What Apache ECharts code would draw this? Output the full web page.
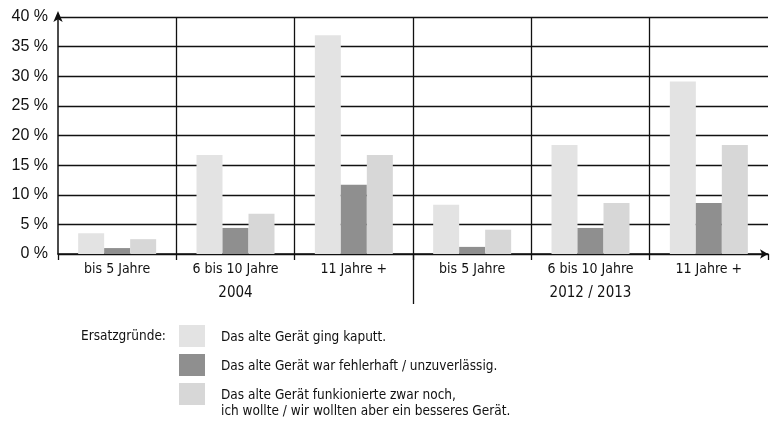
<!DOCTYPE html>
<html>
<head>
<meta charset="utf-8">
<script src="https://cdn.jsdelivr.net/npm/echarts@6/dist/echarts.min.js"></script>
<style>
  html, body { margin: 0; padding: 0; background: #fff; }
  #chart { width: 771px; height: 425px; }
</style>
</head>
<body>
<div id="chart"></div>
<script>
// Kategorien (Alter des Geräts) und Erhebungsjahre
var categories = ['bis 5 Jahre', '6 bis 10 Jahre', '11 Jahre +', 'bis 5 Jahre', '6 bis 10 Jahre', '11 Jahre +'];
var groups = ['2004', '2012 / 2013'];

// Ersatzgründe in %
var kaputt = [3.5, 16.7, 36.9, 8.3, 18.4, 29.1];
var fehlerhaft = [1.0, 4.4, 11.7, 1.2, 4.4, 8.6];
var besser = [2.5, 6.8, 16.7, 4.1, 8.6, 18.4];

var seriesNames = [
    'Das alte Gerät ging kaputt.',
    'Das alte Gerät war fehlerhaft / unzuverlässig.',
    'Das alte Gerät funkionierte zwar noch,\nich wollte / wir wollten aber ein besseres Gerät.'
];
var colors = ['#e3e3e3', '#8f8f8f', '#d7d7d7'];

var narrow = "'Liberation Sans Narrow', 'DejaVu Sans Condensed', 'Roboto Condensed', sans-serif";

var chart = echarts.init(document.getElementById('chart'));

function barSeries(name, data, color) {
    return {
        name: name,
        type: 'bar',
        data: data,
        barWidth: 26,
        barGap: '0%',
        itemStyle: { color: color },
        z: 1
    };
}

// Legende von Hand (Kästchen + Text), damit die zweizeilige Zeile oben bündig sitzt
var legendTop = [325, 354, 383];
var legendEls = [];
for (var i = 0; i < seriesNames.length; i++) {
    legendEls.push({
        type: 'rect',
        left: 179,
        top: legendTop[i],
        shape: { width: 26, height: 22 },
        style: { fill: colors[i] }
    });
    legendEls.push({
        type: 'text',
        left: 221,
        top: legendTop[i] + 4,
        style: {
            text: seriesNames[i],
            fontFamily: narrow,
            fontSize: 13.5,
            lineHeight: 16,
            fill: '#111'
        }
    });
}

var option = {
    animation: false,
    color: colors,
    title: {
        text: 'Ersatzgründe:',
        left: 76,
        top: 324,
        textStyle: { fontFamily: narrow, fontSize: 13.5, fontWeight: 'normal', color: '#111' }
    },
    grid: { left: 58, right: 3, top: 17, height: 237, containLabel: false },
    xAxis: [{
        type: 'category',
        data: categories,
        axisLine: { lineStyle: { color: '#111', width: 1.5 }, symbol: ['none', 'arrow'], symbolSize: [7, 8], symbolOffset: [0, 0] },
        axisTick: { show: true, length: 6, lineStyle: { color: '#111', width: 1.3 } },
        splitLine: { show: true, showMinLine: false, showMaxLine: false, lineStyle: { color: '#111', width: 1.3 } },
        axisLabel: { margin: 8, fontFamily: narrow, fontSize: 14, color: '#111' }
    }, {
        type: 'category',
        data: groups,
        position: 'bottom',
        axisLine: { show: false },
        axisTick: { show: false },
        splitLine: { show: false },
        axisLabel: { margin: 32, fontFamily: narrow, fontSize: 15, color: '#111' }
    }],
    yAxis: {
        type: 'value',
        min: 0,
        max: 40,
        interval: 5,
        axisLine: { show: true, lineStyle: { color: '#111', width: 1.5 }, symbol: ['none', 'arrow'], symbolSize: [7, 11], symbolOffset: [0, 6] },
        axisTick: { show: false },
        splitLine: { show: true, lineStyle: { color: '#111', width: 1.3 } },
        axisLabel: { margin: 10, formatter: '{value} %', fontFamily: "'Liberation Sans', Arial, sans-serif", fontSize: 16, color: '#111' }
    },
    series: [
        barSeries(seriesNames[0], kaputt, colors[0]),
        barSeries(seriesNames[1], fehlerhaft, colors[1]),
        barSeries(seriesNames[2], besser, colors[2])
    ]
};

chart.setOption(option);

// lange Trennlinie zwischen den Erhebungen, aus der Achsenskala berechnet
var grpWidth = chart.convertToPixel({ xAxisIndex: 1 }, groups[1]) - chart.convertToPixel({ xAxisIndex: 1 }, groups[0]);
var sepX = Math.round(chart.convertToPixel({ xAxisIndex: 1 }, groups[0]) + grpWidth / 2) + 0.5;
var baseY = chart.convertToPixel({ yAxisIndex: 0 }, 0);
chart.setOption({
    graphic: [{
        type: 'line',
        shape: { x1: sepX, y1: baseY, x2: sepX, y2: baseY + 50 },
        style: { stroke: '#111', lineWidth: 1.3 },
        z: 5
    }].concat(legendEls)
});
</script>
</body>
</html>
